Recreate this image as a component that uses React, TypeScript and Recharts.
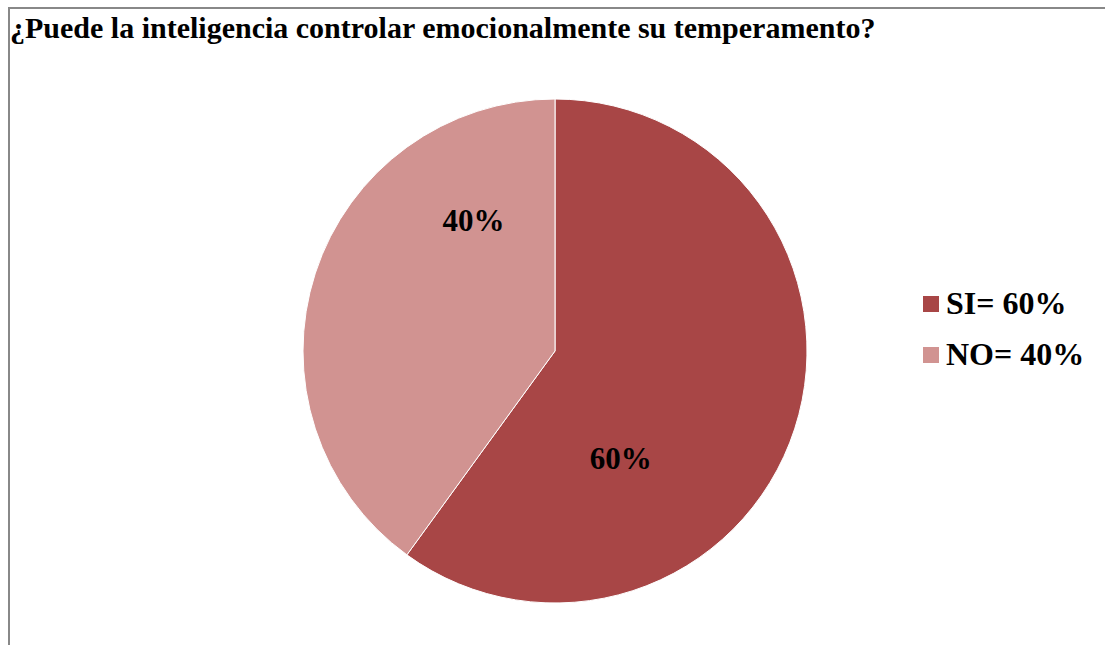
import React from 'react';
import { PieChart, Pie, Cell, Legend } from 'recharts';

const categories = ['SI', 'NO'];
const values = [60, 40];
const colors = ['#A84646', '#D19391'];

const data = categories.map((name, i) => ({ name, value: values[i] }));

const FONT = 'Liberation Serif';

// Excel "best fit" label spots: angle (deg) and fraction of the radius
const labelSpots = [
  { angle: -58.5, r: 0.5 },
  { angle: 122, r: 0.61 },
];

const RADIAN = Math.PI / 180;

const renderLabel = (props: any) => {
  const { cx, cy, outerRadius, index, value } = props;
  const spot = labelSpots[index];
  const x = cx + outerRadius * spot.r * Math.cos(spot.angle * RADIAN);
  const y = cy - outerRadius * spot.r * Math.sin(spot.angle * RADIAN);
  return (
    <text
      x={x}
      y={y}
      textAnchor="middle"
      dominantBaseline="central"
      fill="#000"
      fontFamily={FONT}
      fontWeight="bold"
      fontSize={31}
    >
      {`${value}%`}
    </text>
  );
};

const CustomLegend = () => (
  <div style={{ fontFamily: FONT, fontWeight: 'bold', fontSize: 32, color: '#000' }}>
    {data.map((d, i) => (
      <div key={d.name} style={{ display: 'flex', alignItems: 'center', height: 51 }}>
        <span
          style={{
            display: 'inline-block',
            width: 16,
            height: 16,
            background: colors[i],
            marginRight: 7,
          }}
        />
        <span>{`${d.name}= ${d.value}%`}</span>
      </div>
    ))}
  </div>
);

const App: React.FC = () => {
  return (
    <div style={{ position: 'absolute', left: 0, top: 0, width: 1105, height: 645, background: '#fff', overflow: 'hidden' }}>
      <div
        style={{
          position: 'absolute',
          left: 8,
          top: 7,
          width: 1110,
          height: 660,
          borderTop: '2px solid #888',
          borderLeft: '2px solid #888',
        }}
      />
      <div
        style={{
          position: 'absolute',
          left: 10,
          top: 13,
          fontFamily: FONT,
          fontWeight: 'bold',
          fontSize: 30,
          lineHeight: '30px',
          color: '#000',
          whiteSpace: 'nowrap',
        }}
      >
        ¿Puede la inteligencia controlar emocionalmente su temperamento?
      </div>
      <div style={{ position: 'absolute', left: 0, top: 0 }}>
        <PieChart width={1105} height={645} margin={{ top: 0, right: 0, bottom: 0, left: 0 }}>
          <Pie
            data={data}
            dataKey="value"
            nameKey="name"
            cx={555}
            cy={351}
            outerRadius={252}
            startAngle={90}
            endAngle={-270}
            stroke="#fff"
            strokeWidth={1}
            label={renderLabel}
            labelLine={false}
            isAnimationActive={false}
          >
            {data.map((d, i) => (
              <Cell key={d.name} fill={colors[i]} />
            ))}
          </Pie>
          <Legend
            content={<CustomLegend />}
            layout="vertical"
            wrapperStyle={{ position: 'absolute', left: 923, top: 278, width: 180 }}
          />
        </PieChart>
      </div>
    </div>
  );
};

export default App;
